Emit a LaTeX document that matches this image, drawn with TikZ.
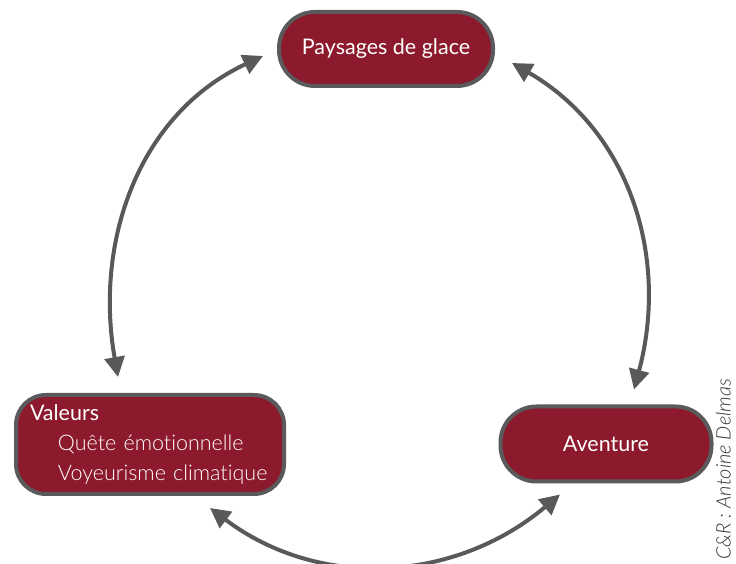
\documentclass[tikz,border=0pt]{standalone}
\usepackage{fontspec}
\setmainfont{Lato}[Ligatures=NoCommon]
\newfontfamily\lightfont{Lato Light}[Ligatures=NoCommon]
\usetikzlibrary{arrows.meta,positioning}
\definecolor{glacered}{HTML}{8C1A2C}
\definecolor{rim}{HTML}{5A5A5C}
\definecolor{arrowgray}{HTML}{58595B}
\definecolor{credit}{HTML}{333333}

\begin{document}
\begin{tikzpicture}[x=1pt,y=1pt,
  pill/.style={draw=rim,line width=4pt,fill=glacered,text=white,rounded corners=36pt,font=\fontsize{21.5}{26}\selectfont},
  link/.style={arrowgray,line width=4pt,{Triangle[length=20pt,width=20pt]}-{Triangle[length=20pt,width=20pt]}}]
\useasboundingbox (0,0) rectangle (736,564);
\node[pill,minimum width=214pt,minimum height=74pt] (glace) at (386,515) {Paysages de glace};
\node[pill,minimum width=211pt,minimum height=75pt] (aventure) at (606,120) {Aventure};
\node[pill,rounded corners=30pt,minimum width=268pt,minimum height=99pt,text width=240pt,inner xsep=14pt,align=left,font=\fontsize{21.5}{30}\selectfont] (valeurs) at (150,119.5)
  {Valeurs\\ \hspace*{28pt}{\lightfont Quête émotionnelle}\\ \hspace*{28pt}{\lightfont Voyeurisme climatique}};
% liens
\draw[link] ([shift={(-14,-7)}]glace.west) to[out=205,in=100] ([shift={(-32,16)}]valeurs.north);
\draw[link] ([shift={(17,-14)}]glace.east) to[out=-30,in=75] ([shift={(28,15)}]aventure.north);
\draw[link] ([shift={(60,-12)}]valeurs.south) to[out=-37,in=220] ([shift={(-46,-11)}]aventure.south);
\node[rotate=90,anchor=south west,inner sep=0,text=credit,font=\lightfont\itshape\fontsize{20}{24}\selectfont] (credit) at (731,4) {C\&R : Antoine Delmas};
\end{tikzpicture}
\end{document}
